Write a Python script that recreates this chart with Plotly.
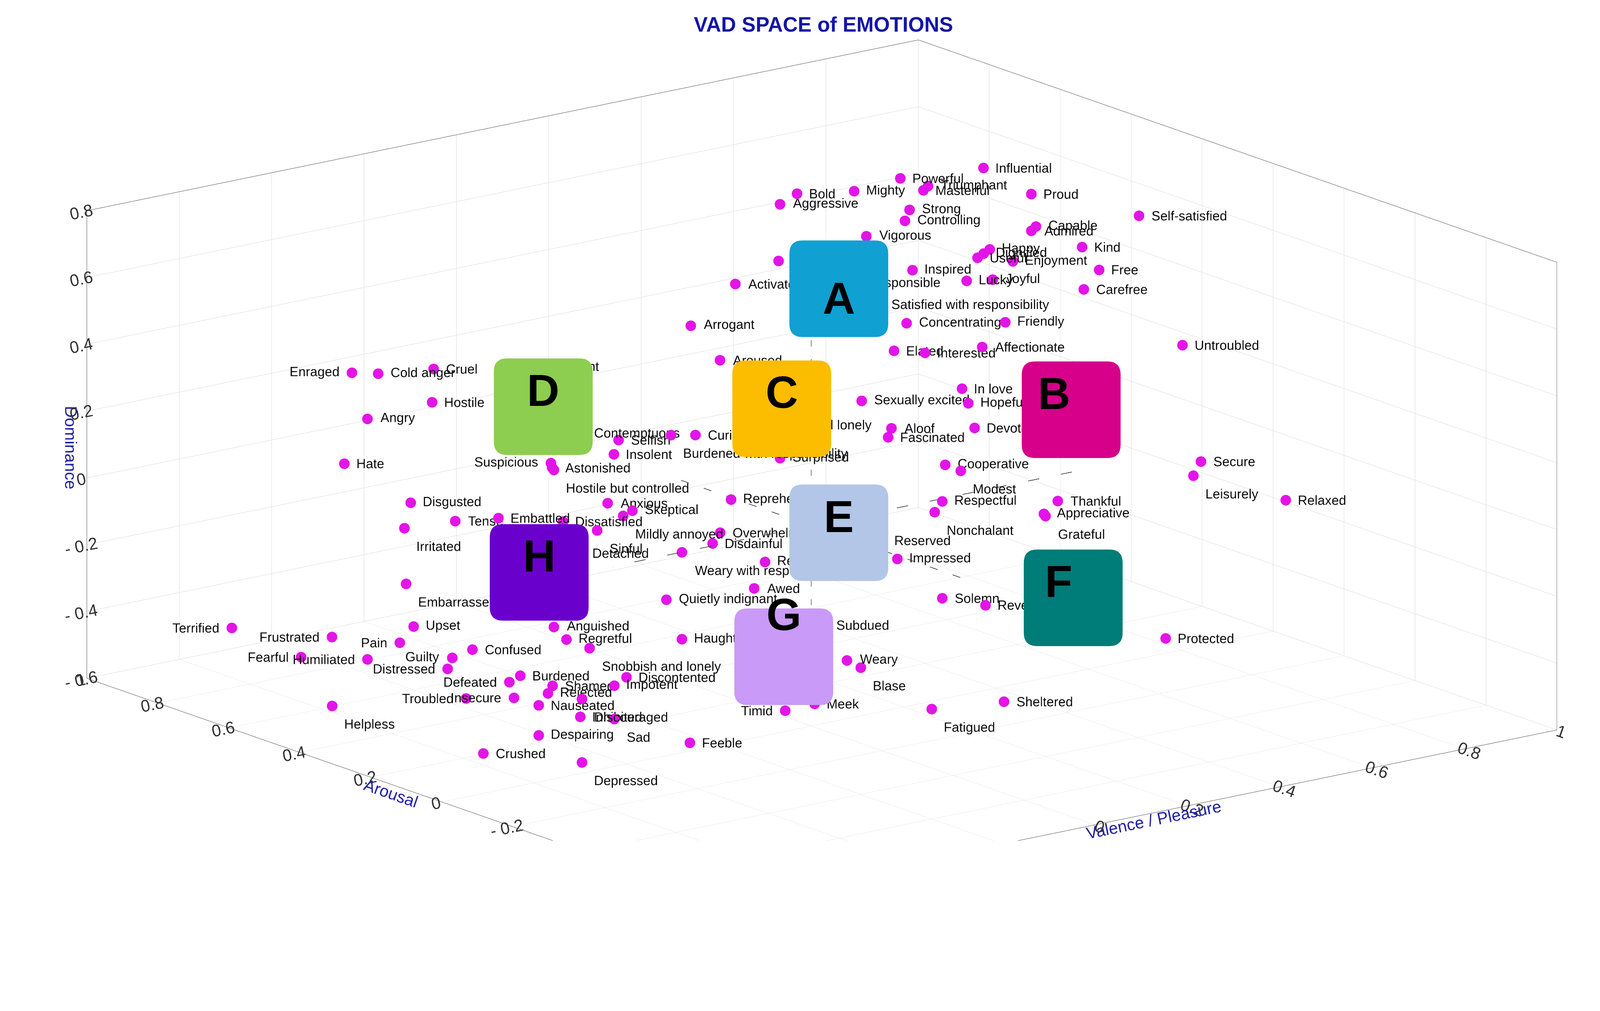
import plotly.graph_objects as go

# emotion labels with Valence / Arousal / Dominance
words = [
    "Influential", "Powerful", "Mighty", "Bold", "Triumphant", "Masterful", "Aggressive", "Strong",
    "Controlling", "Vigorous", "Proud", "Capable", "Admired", "Self-satisfied", "Happy", "Dignified",
    "Useful", "Kind", "Enjoyment", "Free", "Inspired", "Lucky", "Joyful", "Carefree",
    "Domineering", "Activated", "Responsible", "Satisfied with responsibility", "Arrogant",
    "Concentrating", "Friendly", "Affectionate", "Untroubled", "Elated", "Interested", "Aroused",
    "Cruel", "Enraged", "Cold anger", "Violent", "Hostile", "Angry", "Hate", "In love",
    "Sexually excited", "Hopeful", "Aloof", "Proud and lonely", "Devoted", "Fascinated",
    "Curious", "Contemptuous", "Selfish", "Insolent", "Suspicious", "Astonished",
    "Hostile but controlled", "Burdened with responsibility", "Surprised", "Cooperative", "Modest",
    "Secure", "Leisurely", "Relaxed", "Thankful", "Appreciative", "Grateful", "Respectful",
    "Nonchalant", "Reserved", "Impressed", "Solemn", "Reverent", "Protected", "Sheltered",
    "Fatigued", "Weary", "Blase", "Subdued", "Meek", "Listless", "Timid", "Bored", "Deactivated",
    "Feeble", "Lonely", "Sad", "Inhibited", "Despairing", "Depressed", "Crushed", "Helpless",
    "Nauseated", "Rejected", "Discouraged", "Impotent", "Discontented", "Shamed", "Burdened",
    "Defeated", "Insecure", "Troubled", "Distressed", "Guilty", "Confused", "Regretful",
    "Snobbish and lonely", "Anguished", "Hungry", "Upset", "Pain", "Frustrated", "Humiliated",
    "Fearful", "Terrified", "Haughty", "Quietly indignant", "Awed", "Repentant",
    "Weary with responsibility", "Disdainful", "Overwhelmed", "Reprehensible", "Anxious",
    "Skeptical", "Mildly annoyed", "Sinful", "Detached", "Dissatisfied", "Embattled", "Tense",
    "Irritated", "Disgusted", "Embarrassed",
]
valence = [
    0.68, 0.50, 0.40, 0.43, 0.56, 0.55, 0.47, 0.52,
    0.51, 0.58, 0.63, 0.64, 0.63, 0.94, 0.54, 0.45,
    0.36, 0.74, 0.59, 0.70, 0.68, 0.49, 0.70, 0.59,
    0.39, 0.45, 0.25, 0.30, 0.20,
    0.36, 0.42, 0.37, 0.65, 0.64, 0.40, 0.34,
    -0.28, -0.38, -0.40, 0.04, -0.36, -0.50, -0.55, 0.48,
    0.57, 0.34, 0.02, -0.11, 0.20, 0.32,
    0.21, -0.19, -0.11, -0.12, -0.41, -0.10,
    -0.25, -0.15, 0.47, 0.29, 0.17,
    0.69, 0.52, 0.72, 0.38, 0.35, 0.20, 0.13,
    -0.04, 0.00, 0.34, 0.13, 0.07, 0.46, 0.11,
    -0.20, -0.23, -0.20, -0.28, -0.30, -0.45, -0.21, -0.63, -0.66,
    -0.57, -0.63, -0.58, -0.50, -0.59, -0.65, -0.71, -0.73,
    -0.59, -0.57, -0.65, -0.58, -0.40, -0.56, -0.63,
    -0.50, -0.49, -0.44, -0.48, -0.47, -0.58, -0.53,
    -0.48, -0.25, -0.46, -0.40, -0.43, -0.50, -0.50,
    -0.49, -0.64, -0.28, -0.16, 0.03, -0.10,
    -0.28, -0.06, 0.11, -0.02, 0.02,
    -0.08, -0.10, -0.31, -0.50, -0.23, -0.37, -0.31,
    -0.42, -0.56, -0.57,
]
arousal = [
    0.4, 0.4, 0.4, 0.6, 0.4, 0.4, 0.7, 0.4,
    0.4, 0.6, 0.2, 0.2, 0.2, 0.3, 0.2, 0.1,
    0.0, 0.2, 0.2, 0.1, 0.6, 0.2, 0.4, 0.0,
    0.6, 0.8, 0.2, 0.2, 0.6,
    0.2, 0.0, 0.0, -0.2, 0.6, 0.2, 0.7,
    0.7, 0.8, 0.7, 0.8, 0.6, 0.6, 0.6, 0.2,
    0.6, 0.0, -0.2, 0.0, -0.2, 0.2,
    0.6, 0.4, 0.4, 0.4, 0.2, 0.6,
    0.4, 0.2, 0.7, 0.0, -0.2,
    -0.2, -0.4, -0.4, -0.2, -0.2, -0.4, -0.2,
    -0.4, -0.2, 0.2, -0.2, -0.4, -0.4, -0.4,
    -0.6, -0.4, -0.4, -0.4, -0.4, -0.6, -0.2, -0.6, -0.7,
    -0.4, -0.4, -0.2, 0.0, 0.0, -0.2, 0.0, 0.4,
    0.0, 0.0, -0.2, -0.2, 0.0, 0.0, 0.0,
    0.2, 0.2, 0.4, 0.4, 0.4, 0.2, 0.0,
    0.0, 0.4, 0.2, 0.6, 0.6, 0.7, 0.6,
    0.8, 0.8, 0.0, 0.2, 0.2, 0.0,
    0.0, 0.2, 0.4, 0.2, 0.6,
    0.4, 0.4, 0.2, 0.0, 0.4, 0.4, 0.6,
    0.6, 0.4, 0.4,
]
dominance = [
    0.73, 0.75, 0.74, 0.65, 0.71, 0.70, 0.57, 0.65,
    0.62, 0.48, 0.74, 0.64, 0.63, 0.55, 0.60, 0.65,
    0.70, 0.55, 0.55, 0.53, 0.35, 0.52, 0.39, 0.54,
    0.46, 0.30, 0.58, 0.50, 0.32,
    0.43, 0.49, 0.43, 0.43, 0.12, 0.33, 0.14,
    0.29, 0.27, 0.31, 0.17, 0.25, 0.24, 0.12, 0.20,
    -0.01, 0.27, 0.36, 0.33, 0.31, 0.10,
    -0.01, 0.18, 0.14, 0.10, 0.23, -0.02,
    0.09, 0.24, -0.19, 0.10, 0.19,
    0.07, 0.15, 0.02, 0.04, 0.01, 0.12, 0.11,
    0.20, 0.03, -0.27, -0.18, -0.11, -0.32, -0.41,
    -0.27, -0.19, -0.22, -0.07, -0.30, -0.23, -0.42, -0.33, -0.30,
    -0.34, -0.33, -0.34, -0.43, -0.46, -0.45, -0.48, -0.48,
    -0.37, -0.34, -0.26, -0.24, -0.34, -0.32, -0.27,
    -0.40, -0.45, -0.54, -0.44, -0.41, -0.28, -0.19,
    -0.23, -0.38, -0.21, -0.41, -0.45, -0.45, -0.48,
    -0.55, -0.42, -0.26, -0.25, -0.27, -0.08,
    0.00, -0.11, -0.20, 0.01, -0.16,
    -0.08, -0.09, 0.00, 0.06, -0.07, -0.02, -0.12,
    -0.11, 0.08, -0.16,
]
left_words = ["Enraged", "Terrified", "Frustrated", "Fearful", "Pain", "Humiliated", "Suspicious",
              "Guilty", "Distressed", "Troubled", "Defeated", "Insecure", "Timid"]
below_words = ["Hostile but controlled", "Burdened with responsibility", "Modest", "Leisurely",
               "Grateful", "Nonchalant", "Blase", "Listless", "Deactivated", "Lonely", "Depressed",
               "Discouraged", "Snobbish and lonely", "Weary with responsibility", "Mildly annoyed",
               "Sinful", "Irritated", "Embarrassed", "Helpless", "Fatigued", "Sad"]

# dashed axis guides through the neutral point
guide_v = [0, 0, None, 0, 0, None, 0, 0, None, 0.59, -0.43]
guide_a = [0, 0, None, 0.38, -0.44, None, 0, 0, None, 0, 0]
guide_d = [0.72, -0.54, None, 0, 0, None, 0, 0, None, 0, 0]

# octant boxes
box_labels = ["A", "B", "C", "D", "E", "F", "G", "H"]
box_colors = ["#11a0d2", "#d6008a", "#fcbc00", "#8dcd4f", "#b3c6e7", "#007c79", "#c99af7", "#6a00cc"]
box_cx = [820, 1048, 764, 530, 820, 1050, 766, 526]
box_cy = [281, 400, 399, 397, 521, 585, 643, 560]

v_ticks = [-0.8, -0.6, -0.4, -0.2, 0, 0.2, 0.4, 0.6, 0.8, 1]
a_ticks = [-0.8, -0.6, -0.4, -0.2, 0, 0.2, 0.4, 0.6, 0.8, 1]
d_ticks = [-0.6, -0.4, -0.2, 0, 0.2, 0.4, 0.6, 0.8]


def tick_text(vals):
    out = []
    for t in vals:
        if t == 0 or t == 1:
            out.append(str(int(t)))
        elif t < 0:
            out.append("- " + f"{-t:g}")
        else:
            out.append(f"{t:g}")
    return out


positions = []
for w in words:
    if w in left_words:
        positions.append("middle left")
    elif w in below_words:
        positions.append("bottom right")
    else:
        positions.append("middle right")

fig = go.Figure()

fig.add_trace(go.Scatter3d(
    x=guide_v, y=guide_a, z=guide_d,
    mode="lines",
    line=dict(color="#333333", width=3, dash="dash"),
    hoverinfo="skip",
    showlegend=False,
))

fig.add_trace(go.Scatter3d(
    x=valence, y=arousal, z=dominance,
    mode="markers+text",
    text=words,
    textposition=positions,
    textfont=dict(family="Liberation Sans", size=32, color="#111111"),
    marker=dict(size=15, color="#e314e8", line=dict(width=0)),
    hoverinfo="text",
    showlegend=False,
))


def rounded_box(cx, cy, w=97, h=95, r=13, W=1560, H=910):
    x0, x1 = (cx - w / 2) / W, (cx + w / 2) / W
    y0, y1 = 1 - (cy + h / 2) / H, 1 - (cy - h / 2) / H
    rx, ry = r / W, r / H
    return (f"M {x0 + rx} {y0} L {x1 - rx} {y0} Q {x1} {y0} {x1} {y0 + ry} "
            f"L {x1} {y1 - ry} Q {x1} {y1} {x1 - rx} {y1} L {x0 + rx} {y1} "
            f"Q {x0} {y1} {x0} {y1 - ry} L {x0} {y0 + ry} Q {x0} {y0} {x0 + rx} {y0} Z")


shapes = []
annotations = []
for lab, col, cx, cy in zip(box_labels, box_colors, box_cx, box_cy):
    shapes.append(dict(type="path", xref="paper", yref="paper", path=rounded_box(cx, cy),
                       fillcolor=col, line=dict(width=0), layer="above"))
    annotations.append(dict(text=f"<b>{lab}</b>", x=cx / 1560, y=1 - cy / 910, yshift=42,
                            xref="paper", yref="paper", showarrow=False,
                            font=dict(family="Liberation Sans", size=115, color="#000000")))

axis_common = dict(
    showbackground=False,
    gridcolor="#dcdcdc",
    gridwidth=2,
    showline=True,
    linecolor="#555555",
    linewidth=2,
    mirror=True,
    zeroline=False,
    showspikes=False,
    tickfont=dict(family="Liberation Sans", size=22, color="#333333"),
)

fig.update_layout(
    width=4070, height=2368,
    paper_bgcolor="white",
    margin=dict(l=0, r=0, t=0, b=0),
    title=dict(text="<b>VAD SPACE of EMOTIONS</b>", x=0.516, y=0.985, xanchor="center", yanchor="top",
               font=dict(family="Liberation Sans", size=53, color="#1414a8")),
    shapes=shapes,
    annotations=annotations,
    scene=dict(
        domain=dict(x=[0.03, 1.0], y=[0.0, 0.99]),
        xaxis=dict(axis_common, range=[-0.8, 1], tickvals=v_ticks, ticktext=tick_text(v_ticks),
                   title=dict(text="Valence / Pleasure", font=dict(family="Liberation Sans", size=40, color="#2323a8"))),
        yaxis=dict(axis_common, range=[-0.8, 1], tickvals=a_ticks, ticktext=tick_text(a_ticks),
                   title=dict(text="Arousal", font=dict(family="Liberation Sans", size=40, color="#2323a8"))),
        zaxis=dict(axis_common, range=[-0.6, 0.8], tickvals=d_ticks, ticktext=tick_text(d_ticks),
                   title=dict(text="Dominance", font=dict(family="Liberation Sans", size=40, color="#2323a8"))),
        aspectmode="manual",
        aspectratio=dict(x=2.29, y=2.29, z=1.06),
        camera=dict(
            projection=dict(type="orthographic"),
            eye=dict(x=-0.553, y=-0.72, z=0.252),
            center=dict(x=0, y=0, z=0),
            up=dict(x=0, y=0, z=1),
        ),
    ),
)

fig.write_html("out.html")
